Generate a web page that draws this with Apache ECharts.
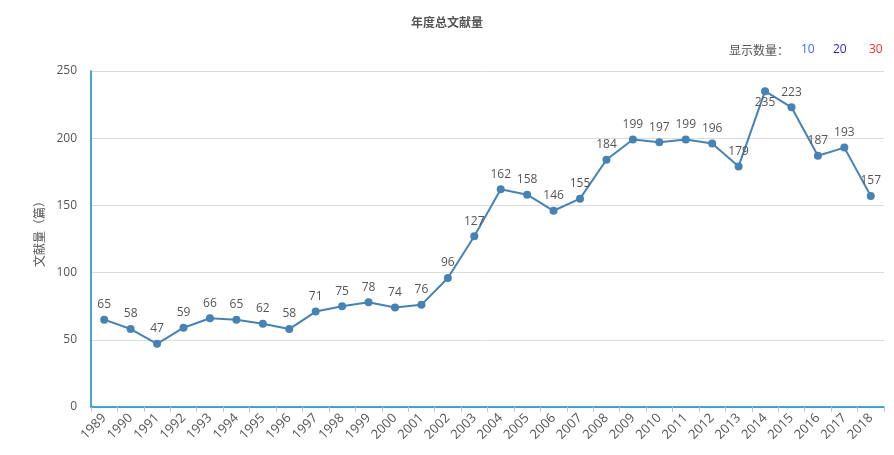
<!DOCTYPE html>
<html><head><meta charset="utf-8">
<script src="https://cdn.jsdelivr.net/npm/echarts@6/dist/echarts.min.js"></script>
<style>html,body{margin:0;padding:0;background:#fff}#c{width:894px;height:455px}</style>
</head><body><div id="c"></div>
<script>
var years = ['1989','1990','1991','1992','1993','1994','1995','1996','1997','1998','1999','2000','2001','2002','2003','2004','2005','2006','2007','2008','2009','2010','2011','2012','2013','2014','2015','2016','2017','2018'];
var counts = [65,58,47,59,66,65,62,58,71,75,78,74,76,96,127,162,158,146,155,184,199,197,199,196,179,235,223,187,193,157];
var yTicks = [0,50,100,150,200,250];
var titleText = '年度总文献量';
var yName = '文献量（篇）';

var FF = '"Open Sans", "Noto Sans CJK SC", sans-serif';
var CJK = '"Noto Sans CJK SC", sans-serif';
var seriesData = counts.map(function(v, i){
  if (v === Math.max.apply(null, counts)) return {value: v, label: {position: 'bottom', distance: 1}};
  return v;
});

var chart = echarts.init(document.getElementById('c'));
chart.setOption({
  animation: false,
  textStyle: {fontFamily: FF},
  title: {text: titleText, left: 'center', top: 11, textStyle: {fontSize: 12, fontWeight: 'bold', color: '#555', fontFamily: CJK}},
  graphic: [
    {type: 'text', left: 729, top: 44, style: {text: '显示数量：', fontSize: 12, fill: '#555', fontFamily: CJK}},
    {type: 'text', left: 801, top: 44, style: {text: '10', fontSize: 12, fill: '#3a6cf0', fontFamily: FF}},
    {type: 'text', left: 833, top: 44, style: {text: '20', fontSize: 12, fill: '#2a1fc8', fontFamily: FF}},
    {type: 'text', left: 869, top: 44, style: {text: '30', fontSize: 12, fill: '#ff2a2a', fontFamily: FF}}
  ],
  grid: {left: 91, right: 10, top: 71, bottom: 48, containLabel: false},
  xAxis: {
    type: 'category', data: years, boundaryGap: true,
    axisLine: {show: true, lineStyle: {color: '#0f87d2', width: 1.5}},
    axisTick: {show: true, lineStyle: {color: '#b8c6d8'}, length: 5},
    axisLabel: {rotate: 45, color: '#555', fontSize: 13, interval: 0, margin: 9, fontFamily: FF}
  },
  yAxis: {
    type: 'value', min: yTicks[0], max: yTicks[yTicks.length-1], interval: 50,
    name: yName, nameLocation: 'middle', nameGap: 46, nameRotate: 90,
    nameTextStyle: {color: '#555', fontSize: 12, fontFamily: CJK, padding: [0, 0, 0, 16]},
    axisLine: {show: true, onZero: false, lineStyle: {color: '#0f87d2', width: 1.5}},
    axisTick: {show: false},
    axisLabel: {color: '#555', fontSize: 12, margin: 14, fontFamily: FF},
    splitLine: {lineStyle: {color: '#dcdcdc'}}
  },
  series: [{
    type: 'line', data: seriesData,
    symbol: 'circle', symbolSize: 8,
    itemStyle: {color: '#4682b4'},
    lineStyle: {color: '#4682b4', width: 2},
    label: {show: true, position: 'top', color: '#555', fontSize: 12, distance: 5, fontFamily: FF}
  }]
});
</script></body></html>
